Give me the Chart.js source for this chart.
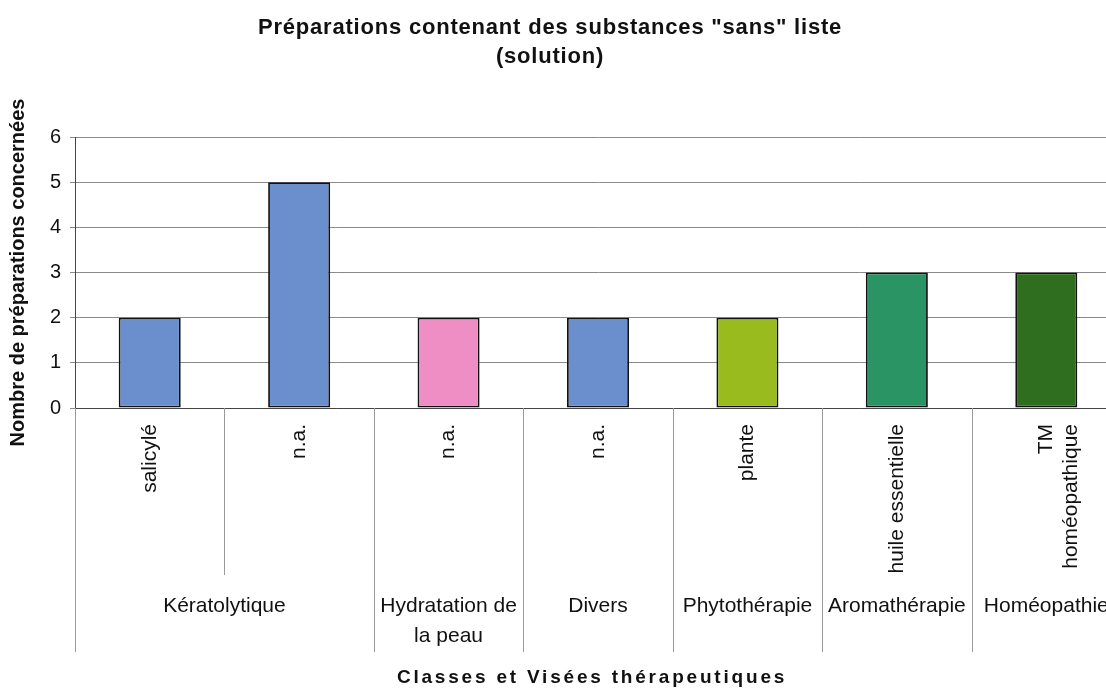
<!DOCTYPE html>
<html>
<head>
<meta charset="utf-8">
<script src="https://cdn.jsdelivr.net/npm/chart.js@4.4.0/dist/chart.umd.min.js"></script>
<style>
html, body { margin: 0; padding: 0; background: #fff; overflow: hidden; }
#wrap { width: 1130px; height: 688px; }
</style>
</head>
<body>
<div id="wrap"><canvas id="myChart" width="1130" height="688"></canvas></div>
<script>
// data
var subLabels = ['salicylé', 'n.a.', 'n.a.', 'n.a.', 'plante', 'huile essentielle', ['TM', 'homéopathique']];
var values = [2, 5, 2, 2, 2, 3, 3];
var barColors = ['#6a8fcc', '#6a8fcc', '#ee8ec4', '#6a8fcc', '#99bb1e', '#2a9464', '#2e6e1e'];
var groupNames = ['Kératolytique', ['Hydratation de', 'la peau'], 'Divers', 'Phytothérapie', 'Aromathérapie', 'Homéopathie'];
var groupSizes = [2, 1, 1, 1, 1, 1];
var yTicks = [0, 1, 2, 3, 4, 5, 6];

var titleLines = ['Préparations contenant des substances "sans" liste', '(solution)'];
var xTitle = 'Classes et Visées thérapeutiques';
var yTitle = 'Nombre de préparations concernées';

var FONT = "'Liberation Sans', Arial, sans-serif";

// draws the title, the group labels under the axis and the separators
var extraDraw = {
    id: 'extraDraw',
    afterDraw: function(chart) {
        var ctx = chart.ctx;
        var x = chart.scales.x;
        var bottom = chart.chartArea.bottom;
        var half = (x.getPixelForValue(1) - x.getPixelForValue(0)) / 2;
        ctx.save();
        ctx.strokeStyle = '#9a9a9a';
        ctx.lineWidth = 1;
        ctx.fillStyle = '#111';
        ctx.textAlign = 'center';
        ctx.textBaseline = 'middle';
        ctx.font = '21px ' + FONT;

        var start = 0;
        var left0 = Math.round(x.getPixelForValue(0) - half) + 0.5;
        ctx.beginPath();
        ctx.moveTo(left0, bottom);
        ctx.lineTo(left0, 652);
        ctx.stroke();
        for (var g = 0; g < groupSizes.length; g++) {
            var end = start + groupSizes[g] - 1;
            var l = x.getPixelForValue(start) - half;
            var r = x.getPixelForValue(end) + half;
            var rx = Math.round(r) + 0.5;
            ctx.beginPath();
            ctx.moveTo(rx, bottom);
            ctx.lineTo(rx, 652);
            ctx.stroke();
            for (var k = start; k < end; k++) {
                var sx = Math.round(x.getPixelForValue(k) + half) + 0.5;
                ctx.beginPath();
                ctx.moveTo(sx, bottom);
                ctx.lineTo(sx, 575);
                ctx.stroke();
            }
            var lines = [].concat(groupNames[g]);
            for (var j = 0; j < lines.length; j++) {
                ctx.fillText(lines[j], (l + r) / 2, 606 + j * 30);
            }
            start = end + 1;
        }

        // chart title
        ctx.font = 'bold 22px ' + FONT;
        ctx.letterSpacing = '0.8px';
        ctx.fillText(titleLines[0], 550, 28);
        ctx.fillText(titleLines[1], 550, 57);

        // x axis title
        ctx.font = 'bold 19px ' + FONT;
        ctx.letterSpacing = '2.8px';
        ctx.fillText(xTitle, 592, 678);
        ctx.restore();
    }
};

var ctx = document.getElementById('myChart');
var chart = new Chart(ctx, {
    type: 'bar',
    data: {
        labels: subLabels,
        datasets: [{
            data: values,
            backgroundColor: barColors,
            borderColor: '#111',
            borderWidth: 1.8,
            borderSkipped: false,
            barPercentage: 0.83,
            categoryPercentage: 0.5
        }]
    },
    plugins: [extraDraw],
    options: {
        responsive: false,
        animation: false,
        layout: {
            padding: { top: 137, right: 9, left: 0, bottom: 0 }
        },
        plugins: {
            legend: { display: false },
            tooltip: { enabled: false },
            title: { display: false }
        },
        scales: {
            x: {
                afterFit: function(scale) { scale.height = 280; },
                grid: { display: false, drawTicks: false },
                border: { display: true, color: '#444', width: 1 },
                ticks: {
                    autoSkip: false,
                    maxRotation: 90,
                    minRotation: 90,
                    padding: 16,
                    color: '#111',
                    font: { family: FONT, size: 21 }
                }
            },
            y: {
                min: 0,
                max: 6,
                afterFit: function(scale) { scale.width = 75; },
                afterBuildTicks: function(scale) {
                    scale.ticks = yTicks.map(function(v) { return { value: v }; });
                },
                grid: { color: '#8a8a8a', lineWidth: 1, tickLength: 5 },
                border: { display: true, color: '#444', width: 1 },
                ticks: {
                    padding: 9,
                    color: '#111',
                    font: { family: FONT, size: 20 }
                },
                title: {
                    display: true,
                    text: yTitle,
                    color: '#111',
                    padding: { top: 6, bottom: 0 },
                    font: { family: FONT, size: 20, weight: 'bold' }
                }
            }
        }
    }
});
</script>
</body>
</html>
